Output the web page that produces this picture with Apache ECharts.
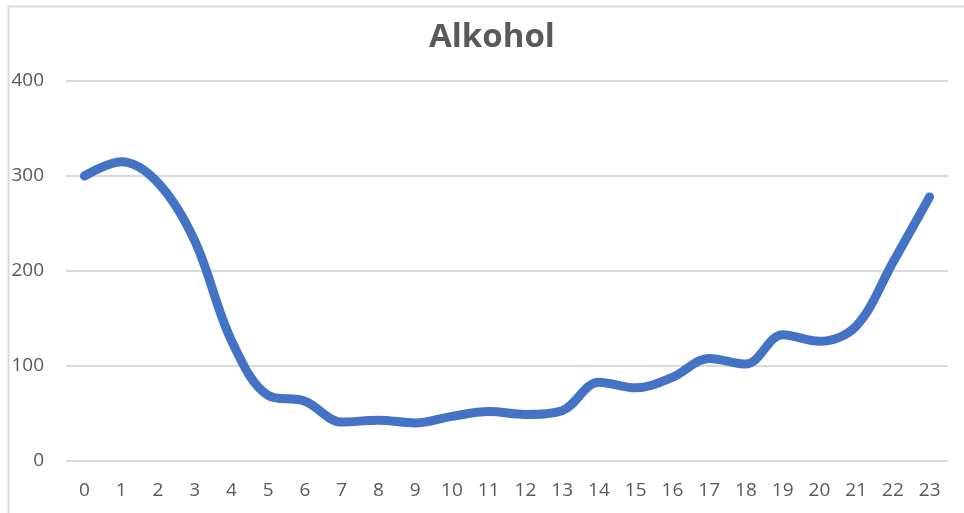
<!DOCTYPE html>
<html lang="de">
<head>
    <meta charset="utf-8">
    <title>Alkohol</title>
    <script src="https://cdn.jsdelivr.net/npm/echarts@6/dist/echarts.min.js"></script>
    <style>
        html, body { margin: 0; padding: 0; background: #fff; }
        #main { width: 964px; height: 513px; }
    </style>
</head>
<body>
<div id="main"></div>
<script type="text/javascript">
    var hours = ['0', '1', '2', '3', '4', '5', '6', '7', '8', '9', '10', '11',
                 '12', '13', '14', '15', '16', '17', '18', '19', '20', '21', '22', '23'];
    var alkohol = [300, 315, 293, 232, 127, 69, 63, 41, 43, 40, 47, 52,
                   49, 53, 83, 77, 88, 108, 102, 133, 126, 142, 209, 278];
    var yTicks = [0, 100, 200, 300, 400];

    var myChart = echarts.init(document.getElementById('main'));
    var option = {
        animation: false,
        title: {
            text: 'Alkohol',
            left: 424,
            top: 16,
            textStyle: {
                color: '#595959',
                fontSize: 33,
                fontWeight: 'bold',
                fontFamily: 'Open Sans'
            }
        },
        graphic: [{
            type: 'rect',
            shape: { x: 8.5, y: 6.5, width: 1200, height: 800 },
            style: { fill: 'none', stroke: '#d9d9d9', lineWidth: 2 },
            silent: true
        }],
        grid: { left: 66, right: 16, top: 81, bottom: 52 },
        xAxis: {
            type: 'category',
            data: hours,
            boundaryGap: true,
            axisLine: { show: false },
            axisTick: { show: false },
            axisLabel: {
                color: '#595959',
                fontSize: 19,
                fontFamily: 'Open Sans',
                margin: 20
            }
        },
        yAxis: {
            type: 'value',
            min: yTicks[0],
            max: yTicks[yTicks.length - 1],
            interval: 100,
            axisLine: { show: false },
            axisTick: { show: false },
            axisLabel: {
                color: '#595959',
                fontSize: 19,
                fontFamily: 'Open Sans',
                margin: 22
            },
            splitLine: { lineStyle: { color: '#d9d9d9', width: 2 } }
        },
        series: [{
            name: 'Alkohol',
            type: 'line',
            data: alkohol,
            smooth: 0.35,
            showSymbol: false,
            lineStyle: { color: '#4472c4', width: 9, cap: 'round', join: 'round' }
        }]
    };
    myChart.setOption(option);
</script>
</body>
</html>
